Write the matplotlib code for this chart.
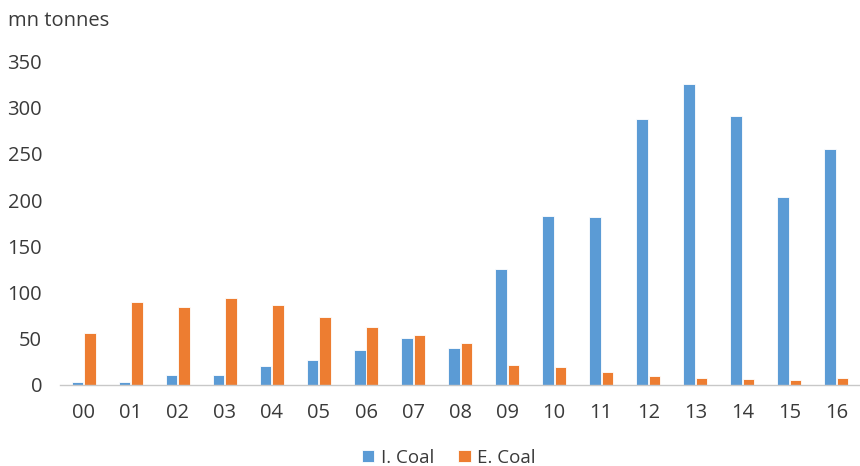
import numpy as np
import matplotlib.pyplot as plt

years = ["00", "01", "02", "03", "04", "05", "06", "07", "08",
         "09", "10", "11", "12", "13", "14", "15", "16"]
imports = [3, 3, 11, 11, 20, 27, 38, 51, 40, 125, 183, 182, 288, 326, 291, 203, 255]
exports = [56, 90, 84, 94, 87, 73, 63, 54, 45, 22, 19, 14, 10, 7, 6, 5, 8]

plt.rcParams['font.family'] = ['Open Sans', 'DejaVu Sans']
text_col = "#3a3a3a"

fig = plt.figure(figsize=(8.6, 4.66), dpi=100)
ax = fig.add_axes([0.07, 0.174, 0.93, 0.694])

x = np.arange(len(years))
w = 0.245
ax.bar(x - w / 2 - 0.01, imports, w, color="#5B9BD5", edgecolor="white",
       linewidth=0.6, label="I. Coal")
ax.bar(x + w / 2 + 0.01, exports, w, color="#ED7D31", edgecolor="white",
       linewidth=0.6, label="E. Coal")

ax.set_xlim(-0.5, len(years) - 0.5)
ax.set_ylim(0, 350)
ax.set_yticks(range(0, 351, 50))
ax.set_xticks(x)
ax.set_xticklabels(years)
ax.tick_params(axis="both", length=0, labelsize=14.5, colors=text_col)
ax.tick_params(axis="x", pad=13)
ax.tick_params(axis="y", pad=13)

for s in ["top", "right", "left"]:
    ax.spines[s].set_visible(False)
ax.spines["bottom"].set_color("#c8c8c8")
ax.spines["bottom"].set_linewidth(1)

fig.text(0.009, 0.955, "mn tonnes", fontsize=14.5, color=text_col, va="center")

fig.legend(loc="center", bbox_to_anchor=(0.522, 0.018), ncol=2, frameon=False,
           fontsize=13.5, labelcolor=text_col, handlelength=0.65, handleheight=0.65,
           handletextpad=0.35, columnspacing=1.3)

fig.savefig("out.png", dpi=100)
